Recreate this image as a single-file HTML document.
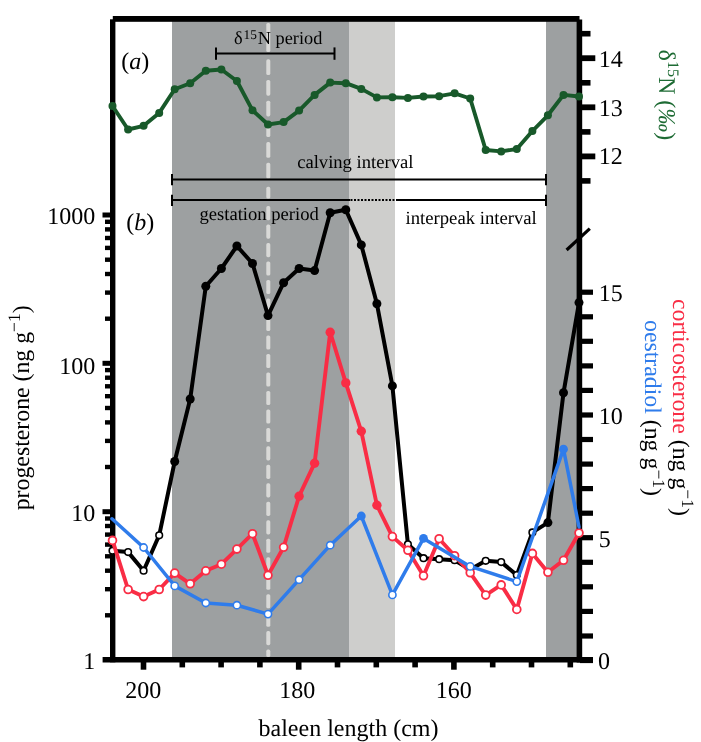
<!DOCTYPE html>
<html><head><meta charset="utf-8"><style>html,body{margin:0;padding:0;background:#fff;}svg{display:block;will-change:transform;text-rendering:geometricPrecision;}</style></head>
<body><svg width="701" height="742" viewBox="0 0 701 742">
<rect width="701" height="742" fill="#fff"/>
<rect x="172" y="20" width="177.5" height="639" fill="#9da0a1"/>
<rect x="349.5" y="20" width="45.5" height="639" fill="#cececc"/>
<rect x="546" y="20" width="32" height="639" fill="#9da0a1"/>
<rect x="266.3" y="23.0" width="4" height="29.0" rx="1.6" fill="#d9d9d7"/>
<rect x="266.3" y="59.3" width="4" height="15.7" rx="1.6" fill="#d9d9d7"/>
<rect x="266.3" y="80.0" width="4" height="15.7" rx="1.6" fill="#d9d9d7"/>
<rect x="266.3" y="100.7" width="4" height="15.7" rx="1.6" fill="#d9d9d7"/>
<rect x="266.3" y="121.4" width="4" height="15.7" rx="1.6" fill="#d9d9d7"/>
<rect x="266.3" y="142.1" width="4" height="15.7" rx="1.6" fill="#d9d9d7"/>
<rect x="266.3" y="162.8" width="4" height="15.7" rx="1.6" fill="#d9d9d7"/>
<rect x="266.3" y="186.8" width="4" height="11.8" rx="1.6" fill="#d9d9d7"/>
<rect x="266.3" y="206.1" width="4" height="14.1" rx="1.6" fill="#d9d9d7"/>
<rect x="266.3" y="224.6" width="4" height="14.1" rx="1.6" fill="#d9d9d7"/>
<rect x="266.3" y="243.1" width="4" height="14.1" rx="1.6" fill="#d9d9d7"/>
<rect x="266.3" y="261.5" width="4" height="14.1" rx="1.6" fill="#d9d9d7"/>
<rect x="266.3" y="280.0" width="4" height="14.1" rx="1.6" fill="#d9d9d7"/>
<rect x="266.3" y="298.5" width="4" height="14.1" rx="1.6" fill="#d9d9d7"/>
<rect x="266.3" y="317.0" width="4" height="14.1" rx="1.6" fill="#d9d9d7"/>
<rect x="266.3" y="335.5" width="4" height="14.1" rx="1.6" fill="#d9d9d7"/>
<rect x="266.3" y="353.9" width="4" height="14.1" rx="1.6" fill="#d9d9d7"/>
<rect x="266.3" y="372.4" width="4" height="14.1" rx="1.6" fill="#d9d9d7"/>
<rect x="266.3" y="390.9" width="4" height="14.1" rx="1.6" fill="#d9d9d7"/>
<rect x="266.3" y="409.4" width="4" height="14.1" rx="1.6" fill="#d9d9d7"/>
<rect x="266.3" y="427.9" width="4" height="14.1" rx="1.6" fill="#d9d9d7"/>
<rect x="266.3" y="446.3" width="4" height="14.1" rx="1.6" fill="#d9d9d7"/>
<rect x="266.3" y="464.8" width="4" height="14.1" rx="1.6" fill="#d9d9d7"/>
<rect x="266.3" y="483.3" width="4" height="14.1" rx="1.6" fill="#d9d9d7"/>
<rect x="266.3" y="501.8" width="4" height="14.1" rx="1.6" fill="#d9d9d7"/>
<rect x="266.3" y="520.3" width="4" height="14.1" rx="1.6" fill="#d9d9d7"/>
<rect x="266.3" y="538.7" width="4" height="14.1" rx="1.6" fill="#d9d9d7"/>
<rect x="266.3" y="557.2" width="4" height="14.1" rx="1.6" fill="#d9d9d7"/>
<rect x="266.3" y="575.7" width="4" height="14.1" rx="1.6" fill="#d9d9d7"/>
<rect x="266.3" y="594.2" width="4" height="14.1" rx="1.6" fill="#d9d9d7"/>
<rect x="266.3" y="612.7" width="4" height="14.1" rx="1.6" fill="#d9d9d7"/>
<rect x="266.3" y="631.1" width="4" height="14.1" rx="1.6" fill="#d9d9d7"/>
<rect x="266.3" y="649.6" width="4" height="7.4" rx="1.6" fill="#d9d9d7"/>
<g fill="#000">
<rect x="112.8" y="16" width="466.7" height="5.8"/>
<rect x="110" y="19.3" width="5.4" height="643"/>
<rect x="576.6" y="19.5" width="5.6" height="643"/>
<rect x="102.6" y="657" width="490.4" height="5.5"/>
<rect x="140.7" y="660" width="5.6" height="9.7"/>
<rect x="179.5" y="660" width="5.6" height="7.4"/>
<rect x="218.3" y="660" width="5.6" height="7.4"/>
<rect x="257.1" y="660" width="5.6" height="7.4"/>
<rect x="295.9" y="660" width="5.6" height="9.7"/>
<rect x="334.7" y="660" width="5.6" height="7.4"/>
<rect x="373.5" y="660" width="5.6" height="7.4"/>
<rect x="412.3" y="660" width="5.6" height="7.4"/>
<rect x="451.1" y="660" width="5.6" height="9.7"/>
<rect x="489.9" y="660" width="5.6" height="7.4"/>
<rect x="528.7" y="660" width="5.6" height="7.4"/>
<rect x="567.5" y="660" width="5.6" height="7.4"/>
<rect x="105" y="613.1" width="6" height="4.4"/>
<rect x="105" y="587.0" width="6" height="4.4"/>
<rect x="105" y="568.5" width="6" height="4.4"/>
<rect x="105" y="554.1" width="6" height="4.4"/>
<rect x="105" y="542.4" width="6" height="4.4"/>
<rect x="105" y="532.4" width="6" height="4.4"/>
<rect x="105" y="523.8" width="6" height="4.4"/>
<rect x="105" y="516.3" width="6" height="4.4"/>
<rect x="102.5" y="509.2" width="9" height="5"/>
<rect x="105" y="464.8" width="6" height="4.4"/>
<rect x="105" y="438.7" width="6" height="4.4"/>
<rect x="105" y="420.2" width="6" height="4.4"/>
<rect x="105" y="405.8" width="6" height="4.4"/>
<rect x="105" y="394.0" width="6" height="4.4"/>
<rect x="105" y="384.1" width="6" height="4.4"/>
<rect x="105" y="375.5" width="6" height="4.4"/>
<rect x="105" y="367.9" width="6" height="4.4"/>
<rect x="102.5" y="360.8" width="9" height="5"/>
<rect x="105" y="316.5" width="6" height="4.4"/>
<rect x="105" y="290.4" width="6" height="4.4"/>
<rect x="105" y="271.8" width="6" height="4.4"/>
<rect x="105" y="257.5" width="6" height="4.4"/>
<rect x="105" y="245.7" width="6" height="4.4"/>
<rect x="105" y="235.8" width="6" height="4.4"/>
<rect x="105" y="227.2" width="6" height="4.4"/>
<rect x="105" y="219.6" width="6" height="4.4"/>
<rect x="102.5" y="212.5" width="9" height="5"/>
<rect x="580" y="657.9" width="13" height="5.2"/>
<rect x="580" y="633.4" width="13" height="5.2"/>
<rect x="580" y="608.8" width="13" height="5.2"/>
<rect x="580" y="584.2" width="13" height="5.2"/>
<rect x="580" y="559.7" width="13" height="5.2"/>
<rect x="580" y="535.1" width="13" height="5.2"/>
<rect x="580" y="510.6" width="13" height="5.2"/>
<rect x="580" y="486.0" width="13" height="5.2"/>
<rect x="580" y="461.5" width="13" height="5.2"/>
<rect x="580" y="436.9" width="13" height="5.2"/>
<rect x="580" y="412.4" width="13" height="5.2"/>
<rect x="580" y="387.8" width="13" height="5.2"/>
<rect x="580" y="363.3" width="13" height="5.2"/>
<rect x="580" y="338.7" width="13" height="5.2"/>
<rect x="580" y="314.2" width="13" height="5.2"/>
<rect x="580" y="289.6" width="13" height="5.2"/>
<rect x="580" y="30.9" width="10.5" height="5.6"/>
<rect x="580" y="80.0" width="10.5" height="5.6"/>
<rect x="580" y="129.1" width="10.5" height="5.6"/>
<rect x="580" y="178.1" width="10.5" height="5.6"/>
<rect x="580" y="55.3" width="15.3" height="5.8"/>
<rect x="580" y="104.4" width="15.3" height="5.8"/>
<rect x="580" y="153.5" width="15.3" height="5.8"/>
</g>
<line x1="566.6" y1="250" x2="589.8" y2="228.6" stroke="#000" stroke-width="3.2"/>
<g stroke="#000" stroke-width="2" fill="none">
<line x1="216" y1="53.6" x2="335" y2="53.6"/><line x1="216" y1="47.4" x2="216" y2="59.8"/><line x1="334.5" y1="47.4" x2="334.5" y2="59.8"/>
<line x1="172" y1="179.6" x2="546.2" y2="179.6"/><line x1="172" y1="174" x2="172" y2="185.2"/><line x1="546" y1="174" x2="546" y2="185.2"/>
<line x1="172" y1="200.1" x2="350" y2="200.1"/><line x1="396" y1="200.1" x2="546.2" y2="200.1"/><line x1="172" y1="194.8" x2="172" y2="205.9"/><line x1="546" y1="194.8" x2="546" y2="205.9"/>
<line x1="350.5" y1="200.1" x2="396" y2="200.1" stroke-dasharray="2 1.5"/>
</g>
<text x="95.2" y="224.3" font-size="24" text-anchor="end" fill="#000" style='font-family:"Liberation Serif", serif;'>1000</text>
<text x="95.2" y="373.5" font-size="24" text-anchor="end" fill="#000" style='font-family:"Liberation Serif", serif;'>100</text>
<text x="95.2" y="520.5" font-size="24" text-anchor="end" fill="#000" style='font-family:"Liberation Serif", serif;'>10</text>
<text x="95.2" y="669" font-size="24" text-anchor="end" fill="#000" style='font-family:"Liberation Serif", serif;'>1</text>
<text x="143.3" y="697.5" font-size="24" text-anchor="middle" fill="#000" style='font-family:"Liberation Serif", serif;'>200</text>
<text x="297.2" y="697.5" font-size="24" text-anchor="middle" fill="#000" style='font-family:"Liberation Serif", serif;'>180</text>
<text x="453.7" y="697.5" font-size="24" text-anchor="middle" fill="#000" style='font-family:"Liberation Serif", serif;'>160</text>
<text x="348.5" y="735.5" font-size="24" text-anchor="middle" fill="#000" style='font-family:"Liberation Serif", serif;'>baleen length (cm)</text>
<text x="598.8" y="301.35" font-size="24" text-anchor="start" fill="#000" style='font-family:"Liberation Serif", serif;'>15</text>
<text x="598.8" y="424.1" font-size="24" text-anchor="start" fill="#000" style='font-family:"Liberation Serif", serif;'>10</text>
<text x="598.8" y="546.85" font-size="24" text-anchor="start" fill="#000" style='font-family:"Liberation Serif", serif;'>5</text>
<text x="597.9" y="668.6" font-size="24" text-anchor="start" fill="#000" style='font-family:"Liberation Serif", serif;'>0</text>
<text x="598.8" y="67" font-size="24" text-anchor="start" fill="#000" style='font-family:"Liberation Serif", serif;'>14</text>
<text x="598.8" y="115.5" font-size="24" text-anchor="start" fill="#000" style='font-family:"Liberation Serif", serif;'>13</text>
<text x="598.8" y="163.5" font-size="24" text-anchor="start" fill="#000" style='font-family:"Liberation Serif", serif;'>12</text>
<text x="121.2" y="68.5" font-size="24" text-anchor="start" fill="#000" style='font-family:"Liberation Serif", serif;'>(<tspan font-style="italic">a</tspan>)</text>
<text x="126.3" y="230.2" font-size="24" text-anchor="start" fill="#000" style='font-family:"Liberation Serif", serif;'>(<tspan font-style="italic">b</tspan>)</text>
<text x="234" y="44.3" font-size="18.3" text-anchor="start" fill="#000" style='font-family:"Liberation Serif", serif;'>δ<tspan font-size="13.3" dx="0.9" dy="-5.8">15</tspan><tspan dx="1" dy="5.8">N period</tspan></text>
<text x="297.2" y="168.2" font-size="18.6" text-anchor="start" fill="#000" style='font-family:"Liberation Serif", serif;'>calving interval</text>
<text x="199.5" y="220.1" font-size="18.6" text-anchor="start" fill="#000" style='font-family:"Liberation Serif", serif;'>gestation period</text>
<text x="405.5" y="223.7" font-size="18.7" text-anchor="start" fill="#000" style='font-family:"Liberation Serif", serif;'>interpeak interval</text>
<text transform="translate(28.6,510.3) rotate(-90)" font-size="23.8" style='font-family:"Liberation Serif", serif;'>progesterone (ng g<tspan font-size="17.5" dy="-8.5">−1</tspan><tspan dy="8.5">)</tspan></text>
<text transform="translate(673,299) rotate(90)" font-size="23.8" style='font-family:"Liberation Serif", serif;'><tspan fill="#f92d45">corticosterone</tspan> (ng g<tspan font-size="17.5" dy="-8.5">−1</tspan><tspan dy="8.5">)</tspan></text>
<text transform="translate(644.5,320) rotate(90)" font-size="23.8" style='font-family:"Liberation Serif", serif;'><tspan fill="#2f7ceb">oestradiol</tspan> (ng g<tspan font-size="17.5" dy="-8.5">−1</tspan><tspan dy="8.5">)</tspan></text>
<text transform="translate(658.5,49.6) rotate(90)" font-size="24" fill="#1e6b34" style='font-family:"Liberation Serif", serif;'>δ<tspan font-size="16" dy="-9">15</tspan><tspan dy="9">N (</tspan><tspan font-style="italic">‰</tspan>)</text>
<polyline points="112.5,106.0 128.1,129.5 143.6,125.8 159.2,112.9 174.7,89.3 190.2,83.2 205.8,70.8 221.4,69.5 236.9,81.0 252.5,110.3 268.0,124.5 283.6,122.1 299.1,110.6 314.6,94.9 330.2,82.6 345.8,83.2 361.3,88.9 376.9,97.4 392.4,97.2 407.9,97.9 423.5,96.5 439.1,96.2 454.6,93.3 470.2,98.5 485.7,150.0 501.2,151.4 516.8,149.0 532.4,131.0 547.9,115.3 563.5,94.9 579.0,96.5" fill="none" stroke="#18592a" stroke-width="3.9" stroke-linejoin="round" stroke-linecap="round"/>
<circle cx="112.5" cy="106.0" r="4.0" fill="#18592a"/>
<circle cx="128.1" cy="129.5" r="4.0" fill="#18592a"/>
<circle cx="143.6" cy="125.8" r="4.0" fill="#18592a"/>
<circle cx="159.2" cy="112.9" r="4.0" fill="#18592a"/>
<circle cx="174.7" cy="89.3" r="4.0" fill="#18592a"/>
<circle cx="190.2" cy="83.2" r="4.0" fill="#18592a"/>
<circle cx="205.8" cy="70.8" r="4.0" fill="#18592a"/>
<circle cx="221.4" cy="69.5" r="4.0" fill="#18592a"/>
<circle cx="236.9" cy="81.0" r="4.0" fill="#18592a"/>
<circle cx="252.5" cy="110.3" r="4.0" fill="#18592a"/>
<circle cx="268.0" cy="124.5" r="4.0" fill="#18592a"/>
<circle cx="283.6" cy="122.1" r="4.0" fill="#18592a"/>
<circle cx="299.1" cy="110.6" r="4.0" fill="#18592a"/>
<circle cx="314.6" cy="94.9" r="4.0" fill="#18592a"/>
<circle cx="330.2" cy="82.6" r="4.0" fill="#18592a"/>
<circle cx="345.8" cy="83.2" r="4.0" fill="#18592a"/>
<circle cx="361.3" cy="88.9" r="4.0" fill="#18592a"/>
<circle cx="376.9" cy="97.4" r="4.0" fill="#18592a"/>
<circle cx="392.4" cy="97.2" r="4.0" fill="#18592a"/>
<circle cx="407.9" cy="97.9" r="4.0" fill="#18592a"/>
<circle cx="423.5" cy="96.5" r="4.0" fill="#18592a"/>
<circle cx="439.1" cy="96.2" r="4.0" fill="#18592a"/>
<circle cx="454.6" cy="93.3" r="4.0" fill="#18592a"/>
<circle cx="470.2" cy="98.5" r="4.0" fill="#18592a"/>
<circle cx="485.7" cy="150.0" r="4.0" fill="#18592a"/>
<circle cx="501.2" cy="151.4" r="4.0" fill="#18592a"/>
<circle cx="516.8" cy="149.0" r="4.0" fill="#18592a"/>
<circle cx="532.4" cy="131.0" r="4.0" fill="#18592a"/>
<circle cx="547.9" cy="115.3" r="4.0" fill="#18592a"/>
<circle cx="563.5" cy="94.9" r="4.0" fill="#18592a"/>
<circle cx="579.0" cy="96.5" r="4.0" fill="#18592a"/>
<polyline points="112.5,550.7 128.1,552.1 143.6,570.7 159.2,535.3 174.7,461.5 190.2,399.0 205.8,286.3 221.4,268.5 236.9,246.0 252.5,263.5 268.0,315.6 283.6,282.7 299.1,268.5 314.6,270.6 330.2,212.8 345.8,209.7 361.3,244.9 376.9,303.8 392.4,385.9 407.9,544.3 423.5,558.2 439.1,559.2 454.6,560.2 470.2,569.5 485.7,560.8 501.2,562.1 516.8,575.1 532.4,532.4 547.9,522.6 563.5,392.8 579.0,302.6" fill="none" stroke="#000" stroke-width="4.0" stroke-linejoin="round" stroke-linecap="round"/>
<circle cx="112.5" cy="550.7" r="3.30" fill="#fff" stroke="#000" stroke-width="1.6"/>
<circle cx="128.1" cy="552.1" r="3.30" fill="#fff" stroke="#000" stroke-width="1.6"/>
<circle cx="143.6" cy="570.7" r="3.30" fill="#fff" stroke="#000" stroke-width="1.6"/>
<circle cx="159.2" cy="535.3" r="3.30" fill="#fff" stroke="#000" stroke-width="1.6"/>
<circle cx="174.7" cy="461.5" r="4.5" fill="#000"/>
<circle cx="190.2" cy="399.0" r="4.5" fill="#000"/>
<circle cx="205.8" cy="286.3" r="4.5" fill="#000"/>
<circle cx="221.4" cy="268.5" r="4.5" fill="#000"/>
<circle cx="236.9" cy="246.0" r="4.5" fill="#000"/>
<circle cx="252.5" cy="263.5" r="4.5" fill="#000"/>
<circle cx="268.0" cy="315.6" r="4.5" fill="#000"/>
<circle cx="283.6" cy="282.7" r="4.5" fill="#000"/>
<circle cx="299.1" cy="268.5" r="4.5" fill="#000"/>
<circle cx="314.6" cy="270.6" r="4.5" fill="#000"/>
<circle cx="330.2" cy="212.8" r="4.5" fill="#000"/>
<circle cx="345.8" cy="209.7" r="4.5" fill="#000"/>
<circle cx="361.3" cy="244.9" r="4.5" fill="#000"/>
<circle cx="376.9" cy="303.8" r="4.5" fill="#000"/>
<circle cx="392.4" cy="385.9" r="4.5" fill="#000"/>
<circle cx="407.9" cy="544.3" r="3.30" fill="#fff" stroke="#000" stroke-width="1.6"/>
<circle cx="423.5" cy="558.2" r="3.30" fill="#fff" stroke="#000" stroke-width="1.6"/>
<circle cx="439.1" cy="559.2" r="3.30" fill="#fff" stroke="#000" stroke-width="1.6"/>
<circle cx="454.6" cy="560.2" r="3.30" fill="#fff" stroke="#000" stroke-width="1.6"/>
<circle cx="470.2" cy="569.5" r="3.30" fill="#fff" stroke="#000" stroke-width="1.6"/>
<circle cx="485.7" cy="560.8" r="3.30" fill="#fff" stroke="#000" stroke-width="1.6"/>
<circle cx="501.2" cy="562.1" r="3.30" fill="#fff" stroke="#000" stroke-width="1.6"/>
<circle cx="516.8" cy="575.1" r="3.30" fill="#fff" stroke="#000" stroke-width="1.6"/>
<circle cx="532.4" cy="532.4" r="3.30" fill="#fff" stroke="#000" stroke-width="1.6"/>
<circle cx="547.9" cy="522.6" r="4.5" fill="#000"/>
<circle cx="563.5" cy="392.8" r="4.5" fill="#000"/>
<circle cx="579.0" cy="302.6" r="4.5" fill="#000"/>
<polyline points="112.5,540.4 128.1,589.5 143.6,596.6 159.2,589.5 174.7,573.1 190.2,583.8 205.8,570.8 221.4,564.2 236.9,549.1 252.5,533.7 268.0,575.3 283.6,547.3 299.1,496.2 314.6,463.2 330.2,332.2 345.8,382.9 361.3,431.3 376.9,505.2 392.4,536.6 407.9,550.3 423.5,575.8 439.1,538.7 454.6,555.7 470.2,572.8 485.7,595.1 501.2,584.9 516.8,609.4 532.4,553.4 547.9,572.3 563.5,560.3 579.0,533.0" fill="none" stroke="#f92d45" stroke-width="3.9" stroke-linejoin="round" stroke-linecap="round"/>
<circle cx="112.5" cy="540.4" r="3.90" fill="#fff" stroke="#f92d45" stroke-width="1.8"/>
<circle cx="128.1" cy="589.5" r="3.90" fill="#fff" stroke="#f92d45" stroke-width="1.8"/>
<circle cx="143.6" cy="596.6" r="3.90" fill="#fff" stroke="#f92d45" stroke-width="1.8"/>
<circle cx="159.2" cy="589.5" r="3.90" fill="#fff" stroke="#f92d45" stroke-width="1.8"/>
<circle cx="174.7" cy="573.1" r="3.90" fill="#fff" stroke="#f92d45" stroke-width="1.8"/>
<circle cx="190.2" cy="583.8" r="3.90" fill="#fff" stroke="#f92d45" stroke-width="1.8"/>
<circle cx="205.8" cy="570.8" r="3.90" fill="#fff" stroke="#f92d45" stroke-width="1.8"/>
<circle cx="221.4" cy="564.2" r="3.90" fill="#fff" stroke="#f92d45" stroke-width="1.8"/>
<circle cx="236.9" cy="549.1" r="3.90" fill="#fff" stroke="#f92d45" stroke-width="1.8"/>
<circle cx="252.5" cy="533.7" r="3.90" fill="#fff" stroke="#f92d45" stroke-width="1.8"/>
<circle cx="268.0" cy="575.3" r="3.90" fill="#fff" stroke="#f92d45" stroke-width="1.8"/>
<circle cx="283.6" cy="547.3" r="3.90" fill="#fff" stroke="#f92d45" stroke-width="1.8"/>
<circle cx="299.1" cy="496.2" r="4.7" fill="#f92d45"/>
<circle cx="314.6" cy="463.2" r="4.7" fill="#f92d45"/>
<circle cx="330.2" cy="332.2" r="4.7" fill="#f92d45"/>
<circle cx="345.8" cy="382.9" r="4.7" fill="#f92d45"/>
<circle cx="361.3" cy="431.3" r="4.7" fill="#f92d45"/>
<circle cx="376.9" cy="505.2" r="4.7" fill="#f92d45"/>
<circle cx="392.4" cy="536.6" r="3.90" fill="#fff" stroke="#f92d45" stroke-width="1.8"/>
<circle cx="407.9" cy="550.3" r="3.90" fill="#fff" stroke="#f92d45" stroke-width="1.8"/>
<circle cx="423.5" cy="575.8" r="3.90" fill="#fff" stroke="#f92d45" stroke-width="1.8"/>
<circle cx="439.1" cy="538.7" r="3.90" fill="#fff" stroke="#f92d45" stroke-width="1.8"/>
<circle cx="454.6" cy="555.7" r="3.90" fill="#fff" stroke="#f92d45" stroke-width="1.8"/>
<circle cx="470.2" cy="572.8" r="3.90" fill="#fff" stroke="#f92d45" stroke-width="1.8"/>
<circle cx="485.7" cy="595.1" r="3.90" fill="#fff" stroke="#f92d45" stroke-width="1.8"/>
<circle cx="501.2" cy="584.9" r="3.90" fill="#fff" stroke="#f92d45" stroke-width="1.8"/>
<circle cx="516.8" cy="609.4" r="3.90" fill="#fff" stroke="#f92d45" stroke-width="1.8"/>
<circle cx="532.4" cy="553.4" r="3.90" fill="#fff" stroke="#f92d45" stroke-width="1.8"/>
<circle cx="547.9" cy="572.3" r="3.90" fill="#fff" stroke="#f92d45" stroke-width="1.8"/>
<circle cx="563.5" cy="560.3" r="3.90" fill="#fff" stroke="#f92d45" stroke-width="1.8"/>
<circle cx="579.0" cy="533.0" r="3.90" fill="#fff" stroke="#f92d45" stroke-width="1.8"/>
<polyline points="112.0,518.8 143.6,547.5 174.7,585.9 205.8,603.0 236.9,605.2 268.0,614.1 299.1,579.7 330.2,545.2 361.3,516.0 392.4,594.9 423.5,538.4 470.2,566.4 516.8,581.6 563.5,449.2 579.0,527.0" fill="none" stroke="#2f7ceb" stroke-width="3.5" stroke-linejoin="round" stroke-linecap="round"/>
<circle cx="143.6" cy="547.5" r="3.60" fill="#fff" stroke="#2f7ceb" stroke-width="1.6"/>
<circle cx="174.7" cy="585.9" r="3.60" fill="#fff" stroke="#2f7ceb" stroke-width="1.6"/>
<circle cx="205.8" cy="603.0" r="3.60" fill="#fff" stroke="#2f7ceb" stroke-width="1.6"/>
<circle cx="236.9" cy="605.2" r="3.60" fill="#fff" stroke="#2f7ceb" stroke-width="1.6"/>
<circle cx="268.0" cy="614.1" r="3.60" fill="#fff" stroke="#2f7ceb" stroke-width="1.6"/>
<circle cx="299.1" cy="579.7" r="3.60" fill="#fff" stroke="#2f7ceb" stroke-width="1.6"/>
<circle cx="330.2" cy="545.2" r="3.60" fill="#fff" stroke="#2f7ceb" stroke-width="1.6"/>
<circle cx="361.3" cy="516.0" r="4.4" fill="#2f7ceb"/>
<circle cx="392.4" cy="594.9" r="3.60" fill="#fff" stroke="#2f7ceb" stroke-width="1.6"/>
<circle cx="423.5" cy="538.4" r="4.4" fill="#2f7ceb"/>
<circle cx="470.2" cy="566.4" r="3.60" fill="#fff" stroke="#2f7ceb" stroke-width="1.6"/>
<circle cx="516.8" cy="581.6" r="3.60" fill="#fff" stroke="#2f7ceb" stroke-width="1.6"/>
<circle cx="563.5" cy="449.2" r="4.4" fill="#2f7ceb"/>
</svg></body></html>
